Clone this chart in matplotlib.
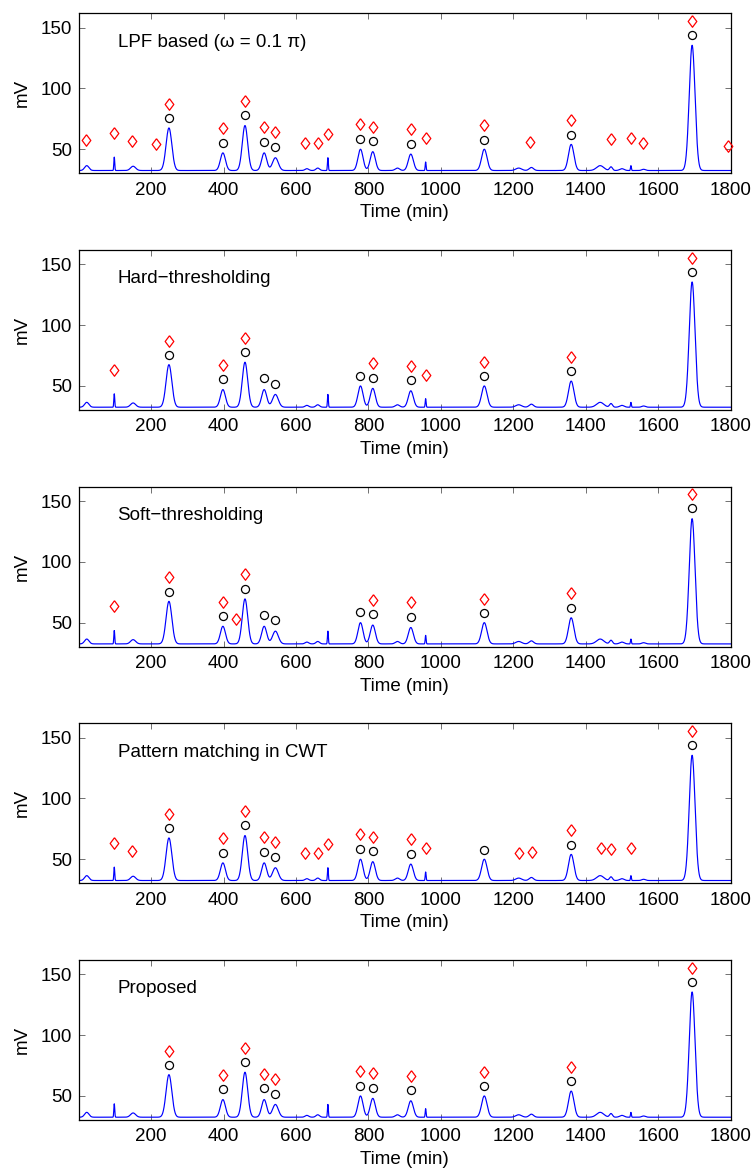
import numpy as np
import matplotlib
matplotlib.use("Agg")
import matplotlib.pyplot as plt

plt.rcParams['font.family'] = ['Liberation Sans', 'DejaVu Sans']

# ---------------- data ----------------
baseline_mv = 32.5
# chromatographic peaks (centre, height above baseline, width sigma)
peak_centers = [22, 150, 249, 398, 459, 512, 543, 630, 660, 778, 812, 880, 917,
                1120, 1215, 1250, 1360, 1440, 1470, 1500, 1560, 1694]
peak_heights = [4.0, 3.5, 35.0, 14.5, 37.0, 14.5, 10.5, 1.5, 2.0, 17.5, 15.5, 2.0, 13.5,
                17.5, 2.0, 2.5, 21.5, 4.0, 3.0, 1.5, 1.0, 103.0]
peak_sigmas = [6, 7, 8, 7, 7.5, 7, 8, 5, 5, 7, 7, 6, 7,
               7.5, 8, 6, 7.5, 10, 4, 6, 5, 8]
# narrow spikes
spike_centers = [98, 688, 958, 1525]
spike_heights = [11.0, 10.5, 7.0, 4.0]
spike_sigmas = [1.2, 1.2, 1.2, 1.2]

# true peaks (circles)
true_x = [249, 398, 459, 512, 543, 778, 812, 917, 1120, 1360, 1694]
true_y = [75.5, 55.5, 78.0, 56.3, 51.9, 58.5, 56.8, 54.7, 58.0, 62.1, 143.9]

titles = ["LPF based (\u03c9 = 0.1 \u03c0)", "Hard\u2212thresholding", "Soft\u2212thresholding",
          "Pattern matching in CWT", "Proposed"]

lpf_x = [20, 98, 146, 213, 249, 398, 459, 512, 543, 626, 661, 688, 778, 812, 917, 958,
         1120, 1245, 1360, 1470, 1526, 1558, 1694, 1793]
lpf_y = [58.0, 63.4, 56.8, 54.7, 87.3, 67.3, 89.8, 68.4, 64.0, 55.2, 55.2, 62.6, 70.8, 68.6,
         66.7, 59.0, 69.8, 56.3, 74.1, 58.5, 59.0, 55.2, 155.4, 53.0]
hard_x = [98, 249, 398, 459, 812, 917, 958, 1120, 1360, 1694]
hard_y = [63.4, 87.3, 67.3, 89.8, 68.6, 66.7, 59.0, 69.8, 74.1, 155.4]
soft_x = [98, 249, 398, 435, 459, 812, 917, 1120, 1360, 1694]
soft_y = [63.4, 87.3, 67.3, 52.8, 89.8, 68.6, 66.7, 69.8, 74.1, 155.4]
cwt_x = [98, 146, 249, 398, 459, 512, 543, 626, 661, 688, 778, 812, 917, 958,
         1217, 1252, 1360, 1441, 1470, 1526, 1694]
cwt_y = [63.4, 56.8, 87.3, 67.3, 89.8, 68.4, 64.0, 55.2, 55.2, 62.6, 70.8, 68.6, 66.7, 59.0,
         55.3, 56.1, 74.1, 59.1, 58.5, 59.1, 155.4]
prop_x = [249, 398, 459, 512, 543, 778, 812, 917, 1120, 1360, 1694]
prop_y = [87.3, 67.3, 89.8, 68.4, 64.0, 70.8, 68.6, 66.7, 69.8, 74.1, 155.4]

detected = [(lpf_x, lpf_y), (hard_x, hard_y), (soft_x, soft_y), (cwt_x, cwt_y), (prop_x, prop_y)]

xticks = [200, 400, 600, 800, 1000, 1200, 1400, 1600, 1800]
yticks = [50, 100, 150]

# ---------------- signal ----------------
t = np.arange(0, 1801, 0.5)
sig = np.full_like(t, baseline_mv, dtype=float)
for c, h, s in zip(peak_centers + spike_centers, peak_heights + spike_heights,
                   peak_sigmas + spike_sigmas):
    sig += h * np.exp(-0.5 * ((t - c) / s) ** 2)

# ---------------- figure ----------------
W, H = 756, 1172
fig = plt.figure(figsize=(W / 100, H / 100), dpi=100)

tops_px = [13.3, 250.0, 486.7, 723.3, 960.0]
left_px, right_px, h_px = 78.8, 730.5, 160.0

diamond = [(0, 1), (0.75, 0), (0, -1), (-0.75, 0), (0, 1)]
FS = 13.5

for i in range(5):
    bottom = 1 - (tops_px[i] + h_px) / H
    ax = fig.add_axes([left_px / W, bottom, (right_px - left_px) / W, h_px / H])
    ax.plot(t, sig, color=(0, 0, 1), lw=0.85, zorder=2)
    ax.plot(true_x, true_y, linestyle='none', marker='o', markersize=5.8,
            markerfacecolor='none', markeredgecolor='k', markeredgewidth=0.9, zorder=3)
    dx, dy = detected[i]
    ax.plot(dx, dy, linestyle='none', marker=diamond, markersize=8.3,
            markerfacecolor='none', markeredgecolor=(1, 0, 0), markeredgewidth=0.9, zorder=3,
            clip_on=False)
    ax.set_xlim(0, 1800)
    ax.set_ylim(30.2, 161.8)
    ax.set_xticks(xticks)
    ax.set_yticks(yticks)
    ax.tick_params(direction='in', length=4, width=0.6, color='0.35', top=True, right=True,
                   labelsize=FS)
    ax.tick_params(axis='x', pad=6)
    ax.tick_params(axis='y', pad=5)
    for sp in ax.spines.values():
        sp.set_linewidth(0.9)
    ax.set_xlabel("Time (min)", fontsize=FS, labelpad=4)
    ax.set_ylabel("mV", fontsize=FS, labelpad=7)
    ax.text(107, 138, titles[i], fontsize=FS, ha='left', va='center')

fig.savefig("out.png", dpi=100)
